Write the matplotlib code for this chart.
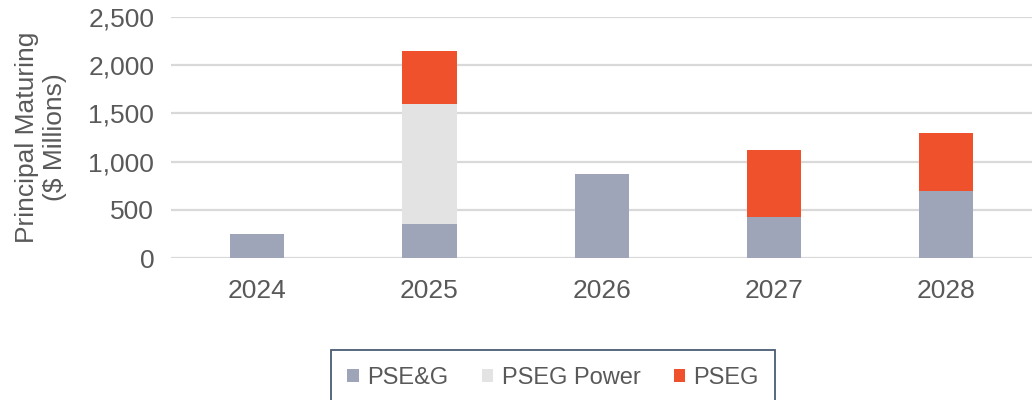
import matplotlib.pyplot as plt
import numpy as np

plt.rcParams["font.family"] = ["Liberation Sans", "DejaVu Sans"]

years = ["2024", "2025", "2026", "2027", "2028"]
pseg_g = [250, 350, 875, 425, 700]
pseg_power = [0, 1250, 0, 0, 0]
pseg = [0, 550, 0, 700, 600]

TEXT = "#595959"
colors = {"PSE&G": "#9EA5B9", "PSEG Power": "#E3E3E3", "PSEG": "#F0512D"}

fig = plt.figure(figsize=(10.33, 4.0), dpi=100)
ax = fig.add_axes([0.1655, 0.355, 0.834, 0.6025])

x = np.arange(len(years))
w = 0.315
b1 = np.array(pseg_g)
b2 = b1 + np.array(pseg_power)
ax.bar(x, pseg_g, w, color=colors["PSE&G"], label="PSE&G", zorder=3)
ax.bar(x, pseg_power, w, bottom=b1, color=colors["PSEG Power"], label="PSEG Power", zorder=3)
ax.bar(x, pseg, w, bottom=b2, color=colors["PSEG"], label="PSEG", zorder=3)

ax.set_xlim(-0.5, len(years) - 0.5)
ax.set_ylim(0, 2500)
ax.set_yticks(range(0, 2501, 500))
ax.set_yticklabels([f"{v:,}" for v in range(0, 2501, 500)])
ax.set_xticks(x)
ax.set_xticklabels(years)
ax.tick_params(axis="both", length=0, labelsize=19, colors=TEXT)
ax.tick_params(axis="x", pad=15)
ax.tick_params(axis="y", pad=12)
ax.grid(axis="y", color="#D9D9D9", linewidth=1.6, zorder=0)
for s in ax.spines.values():
    s.set_visible(False)

ax.set_ylabel("Principal Maturing\n($ Millions)", fontsize=19, color=TEXT, linespacing=1.2)
ax.yaxis.set_label_coords(-0.121, 0.5)

# legend box runs past the bottom edge, as in the reference
leg = fig.legend(loc="lower center", bbox_to_anchor=(0.5355, -0.013), ncol=3, fontsize=17,
                 frameon=True, fancybox=False, handlelength=0.5, handleheight=0.5,
                 handletextpad=0.35, columnspacing=1.4, borderpad=0.7, borderaxespad=0)
leg.get_frame().set_edgecolor("#1F3550")
leg.get_frame().set_linewidth(1.3)
for t in leg.get_texts():
    t.set_color(TEXT)

fig.savefig("out.png", dpi=100)
